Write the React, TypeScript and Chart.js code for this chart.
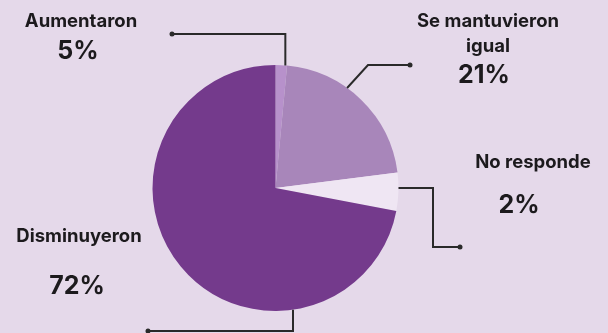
import React, { useEffect, useRef } from "react";
import { Chart, registerables } from "chart.js";

Chart.register(...registerables);

// ---- Data ----
const categories = ["Aumentaron", "Se mantuvieron igual", "No responde", "Disminuyeron"];
// Slice sizes as drawn in the picture (angular share of the pie)
const sliceValues = [1.5, 21.5, 5, 72];
// Percentage texts printed next to each category
const percentLabels = ["5%", "21%", "2%", "72%"];
// Category label lines as printed
const categoryLines = [["Aumentaron"], ["Se mantuvieron", "igual"], ["No responde"], ["Disminuyeron"]];

// ---- Styles ----
const sliceColors = ["#b791cb", "#a886ba", "#efe6f3", "#743a8c"];
const BG = "#e5d9ea";
const INK = "#1c1a1d";
const LINE = "#2a2a2a";
const FONT = "Inter, 'Open Sans', sans-serif";

type Pt = [number, number];
interface Ann {
  labelX: number;
  labelBaselines: number[];
  pctX: number;
  pctBaseline: number;
  anchorFrac: number;
  path: (s: { x: number; y: number }) => Pt[];
}

const annotations: Ann[] = [
  {
    labelX: 81,
    labelBaselines: [27],
    pctX: 78,
    pctBaseline: 59,
    anchorFrac: 0.85,
    path: (s) => [[s.x, 34], [172, 34]],
  },
  {
    labelX: 488,
    labelBaselines: [27, 51.5],
    pctX: 484,
    pctBaseline: 83,
    anchorFrac: 0.39,
    path: () => [[368, 65], [410, 65]],
  },
  {
    labelX: 533,
    labelBaselines: [168],
    pctX: 519,
    pctBaseline: 213,
    anchorFrac: 0.4,
    path: (s) => [[433, s.y], [433, 247], [460, 247]],
  },
  {
    labelX: 79,
    labelBaselines: [241.5],
    pctX: 77,
    pctBaseline: 294,
    anchorFrac: 0.274,
    path: (s) => [[s.x, 331], [148, 331]],
  },
];

const annotationPlugin = {
  id: "calloutLabels",
  afterDraw(chart: any) {
    const ctx: CanvasRenderingContext2D = chart.ctx;
    const meta = chart.getDatasetMeta(0);
    ctx.save();
    annotations.forEach((a, i) => {
      const arc = meta.data[i];
      if (!arc) return;
      const p = arc.getProps(["x", "y", "startAngle", "endAngle", "outerRadius"], true);
      const ang = p.startAngle + a.anchorFrac * (p.endAngle - p.startAngle);
      const s = { x: p.x + Math.cos(ang) * p.outerRadius, y: p.y + Math.sin(ang) * p.outerRadius };
      const pts = a.path(s);
      ctx.strokeStyle = LINE;
      ctx.lineWidth = 2;
      ctx.lineJoin = "miter";
      ctx.beginPath();
      ctx.moveTo(s.x, s.y);
      pts.forEach(([x, y]) => ctx.lineTo(x, y));
      ctx.stroke();
      const end = pts[pts.length - 1];
      ctx.fillStyle = LINE;
      ctx.beginPath();
      ctx.arc(end[0], end[1], 2.5, 0, Math.PI * 2);
      ctx.fill();

      ctx.fillStyle = INK;
      ctx.textAlign = "center";
      ctx.textBaseline = "alphabetic";
      ctx.font = `700 18.5px ${FONT}`;
      categoryLines[i].forEach((line, k) => {
        ctx.fillText(line, a.labelX, a.labelBaselines[k]);
      });
      ctx.font = `700 25px ${FONT}`;
      ctx.fillText(percentLabels[i], a.pctX, a.pctBaseline);
    });
    ctx.restore();
  },
};

export default function App() {
  const canvasRef = useRef<HTMLCanvasElement | null>(null);

  useEffect(() => {
    document.body.style.margin = "0";
    document.body.style.background = BG;
    const canvas = canvasRef.current;
    if (!canvas) return;
    const chart = new Chart(canvas, {
      type: "pie",
      data: {
        labels: categories,
        datasets: [
          {
            data: sliceValues,
            backgroundColor: sliceColors,
            borderWidth: 0,
          },
        ],
      },
      options: {
        animation: false,
        responsive: false,
        devicePixelRatio: 1,
        layout: { padding: { left: 152.5, right: 209.5, top: 65, bottom: 22 } },
        plugins: {
          legend: { display: false },
          tooltip: { enabled: false },
        },
      },
      plugins: [annotationPlugin],
    });
    return () => chart.destroy();
  }, []);

  return (
    <div style={{ position: "fixed", left: 0, top: 0, width: 608, height: 333, background: BG }}>
      <canvas ref={canvasRef} width={608} height={333} style={{ width: 608, height: 333, display: "block" }} />
    </div>
  );
}
